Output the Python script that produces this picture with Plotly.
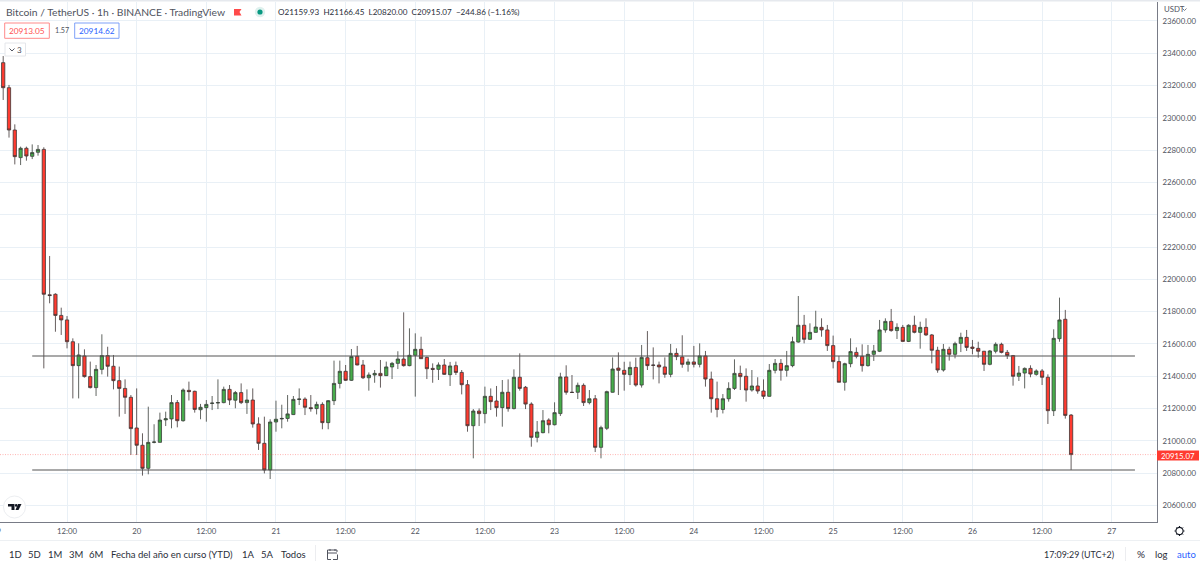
import pandas as pd
import plotly.graph_objects as go

# Hourly BTC/USDT candles, 19 Aug 01:00 to 26 Aug 17:00
first_candle = "2022-08-19 01:00"

opens = [
    23342, 23187, 22925, 22754, 22812, 22762, 22787, 22805, 21905, 21908,
    21777, 21749, 21614, 21466, 21526, 21398, 21330, 21443, 21528, 21462,
    21373, 21325, 21270, 21080, 20973, 20830, 20991, 20991, 21130, 21136,
    21237, 21125, 21313, 21307, 21193, 21206, 21232, 21235, 21237, 21319,
    21252, 21299, 21237, 21253, 21105, 20985, 20820, 21117, 21136, 21139,
    21163, 21257, 21259, 21206, 21200, 21226, 21113, 21249, 21356, 21431,
    21375, 21524, 21470, 21391, 21408, 21418, 21404, 21458, 21480, 21507,
    21466, 21530, 21567, 21517, 21449, 21443, 21470, 21410, 21466, 21424,
    21348, 21094, 21185, 21169, 21276, 21247, 21206, 21301, 21200, 21394,
    21332, 21228, 21022, 21051, 21129, 21100, 21169, 21396, 21301, 21301,
    21344, 21237, 21261, 20960, 21078, 21301, 21451, 21437, 21410, 21455,
    21346, 21515, 21470, 21470, 21458, 21412, 21542, 21520, 21474, 21489,
    21474, 21526, 21383, 21261, 21195, 21261, 21325, 21418, 21400, 21315,
    21340, 21309, 21276, 21437, 21480, 21437, 21466, 21612, 21716, 21629,
    21672, 21703, 21687, 21590, 21491, 21363, 21478, 21548, 21524, 21466,
    21536, 21555, 21687, 21740, 21683, 21703, 21616, 21716, 21672, 21703,
    21656, 21561, 21439, 21567, 21536, 21604, 21641, 21581, 21573, 21555,
    21474, 21555, 21598, 21548, 21528, 21400, 21420, 21449, 21412, 21433,
    21394, 21187, 21633, 21753, 21159.93,
]
highs = [
    23383, 23204, 22960, 22822, 22822, 22836, 22832, 22818, 22145, 21914,
    21825, 21773, 21635, 21604, 21567, 21491, 21470, 21660, 21583, 21532,
    21460, 21381, 21284, 21325, 21047, 21212, 21103, 21175, 21181, 21284,
    21253, 21325, 21367, 21311, 21229, 21253, 21278, 21381, 21336, 21346,
    21309, 21356, 21319, 21325, 21146, 21150, 21134, 21249, 21224, 21284,
    21278, 21325, 21270, 21284, 21243, 21239, 21253, 21497, 21497, 21470,
    21569, 21588, 21501, 21424, 21439, 21501, 21491, 21489, 21555, 21796,
    21697, 21666, 21645, 21522, 21480, 21486, 21507, 21489, 21491, 21439,
    21377, 21197, 21201, 21336, 21325, 21340, 21377, 21381, 21443, 21542,
    21340, 21239, 21123, 21191, 21140, 21239, 21422, 21468, 21408, 21361,
    21356, 21315, 21284, 21094, 21311, 21517, 21548, 21490, 21491, 21515,
    21594, 21680, 21579, 21491, 21517, 21600, 21573, 21654, 21509, 21588,
    21604, 21557, 21429, 21367, 21290, 21363, 21505, 21466, 21449, 21439,
    21394, 21381, 21476, 21507, 21507, 21557, 21645, 21897, 21780, 21728,
    21806, 21759, 21718, 21652, 21526, 21484, 21635, 21579, 21598, 21594,
    21594, 21749, 21759, 21817, 21728, 21718, 21722, 21775, 21738, 21759,
    21662, 21583, 21600, 21583, 21614, 21670, 21687, 21625, 21614, 21557,
    21563, 21610, 21608, 21563, 21532, 21464, 21455, 21468, 21443, 21445,
    21412, 21691, 21887, 21811, 21166.45,
]
lows = [
    23111, 22878, 22712, 22708, 22735, 22745, 22766, 21449, 21852, 21676,
    21656, 21573, 21263, 21263, 21392, 21325, 21278, 21412, 21398, 21319,
    21150, 21167, 20913, 20913, 20785, 20793, 20985, 20990, 21092, 21078,
    21084, 21119, 21250, 21175, 21134, 21119, 21191, 21197, 21233, 21222,
    21202, 21228, 21167, 21082, 20944, 20799, 20764, 21057, 21078, 21119,
    21160, 21222, 21160, 21181, 21164, 21072, 21072, 21222, 21325, 21371,
    21371, 21468, 21383, 21311, 21360, 21330, 21402, 21383, 21445, 21460,
    21462, 21274, 21507, 21383, 21360, 21377, 21408, 21340, 21408, 21288,
    21057, 20892, 21092, 21109, 21191, 21150, 21088, 21181, 21195, 21311,
    21197, 20964, 20991, 21047, 21047, 21096, 21154, 21286, 21298, 21259,
    21216, 21226, 20931, 20892, 21067, 21299, 21284, 21311, 21346, 21336,
    21330, 21439, 21381, 21356, 21391, 21394, 21500, 21453, 21429, 21455,
    21455, 21336, 21175, 21146, 21170, 21243, 21315, 21315, 21243, 21305,
    21292, 21259, 21274, 21418, 21373, 21398, 21456, 21608, 21604, 21625,
    21670, 21645, 21557, 21449, 21363, 21311, 21456, 21511, 21429, 21460,
    21495, 21550, 21670, 21676, 21631, 21614, 21612, 21666, 21571, 21650,
    21480, 21422, 21429, 21497, 21511, 21550, 21557, 21536, 21515, 21433,
    21468, 21542, 21542, 21507, 21342, 21371, 21325, 21394, 21404, 21346,
    21105, 21154, 21614, 21138, 20820.00,
]
closes = [
    23187, 22925, 22760, 22812, 22764, 22785, 22805, 21908, 21900, 21777,
    21749, 21614, 21466, 21532, 21398, 21330, 21443, 21528, 21462, 21373,
    21325, 21270, 21076, 20973, 20830, 20991, 20993, 21129, 21137, 21237,
    21125, 21315, 21305, 21195, 21208, 21226, 21234, 21237, 21319, 21253,
    21299, 21237, 21253, 21105, 20985, 20820, 21117, 21134, 21139, 21167,
    21257, 21259, 21208, 21200, 21226, 21113, 21249, 21356, 21431, 21375,
    21522, 21470, 21391, 21408, 21418, 21404, 21458, 21480, 21507, 21466,
    21530, 21567, 21509, 21447, 21443, 21470, 21412, 21464, 21424, 21348,
    21094, 21185, 21169, 21276, 21243, 21206, 21301, 21200, 21394, 21325,
    21228, 21022, 21055, 21125, 21100, 21175, 21396, 21301, 21300, 21344,
    21237, 21261, 20960, 21082, 21305, 21445, 21437, 21412, 21455, 21346,
    21517, 21466, 21468, 21458, 21412, 21542, 21522, 21474, 21489, 21474,
    21526, 21383, 21261, 21195, 21261, 21325, 21418, 21398, 21315, 21340,
    21309, 21276, 21437, 21480, 21437, 21466, 21614, 21716, 21629, 21672,
    21705, 21687, 21590, 21491, 21363, 21478, 21553, 21524, 21466, 21536,
    21557, 21687, 21740, 21683, 21703, 21616, 21716, 21672, 21703, 21656,
    21561, 21439, 21567, 21536, 21602, 21641, 21579, 21573, 21555, 21474,
    21557, 21598, 21548, 21528, 21400, 21420, 21449, 21414, 21433, 21394,
    21187, 21635, 21749, 21158, 20915.07,
]

# Horizontal levels drawn by hand on the chart
level_start = "2022-08-19 06:00"
level_end = "2022-08-27 04:00"
resistance = 21526
support = 20820
last_price = 20915.07

time_ticks = pd.date_range("2022-08-19 12:00", "2022-08-27 00:00", freq="12h")
time_labels = [str(t.day) if t.hour == 0 else "12:00" for t in time_ticks]

range_buttons = [("1D", 15), ("5D", 34.5), ("1M", 55), ("3M", 75.5), ("6M", 96),
                 ("Fecha del año en curso (YTD)", 172), ("1A", 248), ("5A", 267), ("Todos", 293.5)]

# Plot area in page pixels
W, H = 1200, 565
LEFT, RIGHT, TOP, BOTTOM = 0, 1157, 2, 522
GRID = "#e9f0f6"
AXIS = "#787b86"
LABEL = "#50535e"
FONT = "Lato, 'Open Sans', sans-serif"


def px(x):
    return (x - LEFT) / (RIGHT - LEFT)


def py(y):
    return 1 - (y - TOP) / (BOTTOM - TOP)


def note(x, y, text, size=9, color=LABEL, anchor="left"):
    return dict(xref="paper", yref="paper", x=px(x), y=py(y), text=text, showarrow=False,
                xanchor=anchor, yanchor="middle", borderpad=0,
                font=dict(family=FONT, size=size, color=color))


def outline(points, close=False):
    cmds = [f"{'M' if i == 0 else 'L'}{px(a):.5f},{py(b):.5f}" for i, (a, b) in enumerate(points)]
    return " ".join(cmds) + (" Z" if close else "")


def poly(points, fill=None, line=None, width=1, close=True, layer="above"):
    return dict(type="path", xref="paper", yref="paper", path=outline(points, close),
                fillcolor=fill or "rgba(0,0,0,0)", layer=layer,
                line=dict(color=line or "rgba(0,0,0,0)", width=width))


def box(x0, y0, x1, y1, fill=None, line=None, width=1, layer="above"):
    return dict(type="rect", xref="paper", yref="paper", x0=px(x0), x1=px(x1), y0=py(y0), y1=py(y1),
                fillcolor=fill or "rgba(0,0,0,0)", layer=layer,
                line=dict(color=line or "rgba(0,0,0,0)", width=width))


def disc(cx, cy, r, fill=None, line=None, width=1):
    return dict(type="circle", xref="paper", yref="paper", x0=px(cx - r), x1=px(cx + r),
                y0=py(cy + r), y1=py(cy - r), fillcolor=fill or "rgba(0,0,0,0)",
                line=dict(color=line or "rgba(0,0,0,0)", width=width))


times = pd.date_range(first_candle, periods=len(opens), freq="h")

fig = go.Figure()
fig.add_trace(go.Candlestick(
    x=times, open=opens, high=highs, low=lows, close=closes, whiskerwidth=0,
    increasing=dict(fillcolor="#47ad4b", line=dict(color="#3a3f3a", width=0.8)),
    decreasing=dict(fillcolor="#ff3b30", line=dict(color="#3f3535", width=0.8)),
    showlegend=False, hoverinfo="skip",
))
for level in (resistance, support):
    fig.add_trace(go.Scatter(x=[level_start, level_end], y=[level, level], mode="lines",
                             line=dict(color="#555555", width=1.1), showlegend=False, hoverinfo="skip"))

shapes = [
    dict(type="line", xref="paper", yref="y", x0=0, x1=1, y0=last_price, y1=last_price,
         line=dict(color="rgba(255,59,48,0.38)", width=1, dash="1px,1.5px")),
    box(1157, 450.5, 1199, 460.5, fill="#ff3b30"),
    # strip at the top of the page, toolbar divider
    box(0, 0, 1200, 1.5, fill="#e6e9ee"),
    box(0, 540, 1200, 541, fill="#edf0f3"),
    box(315, 545, 315.7, 561, fill="#e4e6ea"),
    box(1125, 547, 1125.7, 561, fill="#e4e6ea"),
    # legend value boxes
    dict(box(4.7, 23, 49.3, 38.3, fill="white", line="#ff8a8a", width=1)),
    dict(box(74.7, 23, 119, 38.3, fill="white", line="#7ea1f8", width=1)),
    box(5, 43, 25.5, 56, fill="white", line="#e4e6ea"),
    poly([(9.5, 48.5), (12, 51), (14.5, 48.5)], line="#50535e", width=1, close=False),
    # flag and market status dot
    poly([(234, 9), (241.5, 9), (239.5, 12), (241.5, 15.5), (234, 15.5)], fill="#ff4a4a"),
    disc(260, 12, 5.2, fill="#dff1ee"),
    disc(260, 12, 2.6, fill="#089981"),
    # logo badge
    disc(14.5, 507, 11, fill="white", line="#eceef1"),
    poly([(8, 504), (14.5, 504), (14.5, 510), (11.5, 510), (11.5, 506.5), (8, 506.5)], fill="#131722"),
    disc(16.2, 505.4, 1.3, fill="#131722"),
    poly([(18, 504), (21.5, 504), (18.5, 510), (15.5, 510)], fill="#131722"),
    # calendar glyph
    poly([(337, 552), (337, 550), (327.5, 550), (327.5, 559.5), (331, 559.5)], line="#50535e", close=False),
    poly([(327.5, 553), (337, 553)], line="#50535e", close=False),
    poly([(330, 549), (330, 551)], line="#50535e", close=False),
    poly([(335, 549), (335, 551)], line="#50535e", close=False),
    poly([(337.5, 554.5), (337.5, 559.5), (333, 559.5)], line="#50535e", close=False),
    # settings gear
    disc(1179.5, 531, 3.6, line="#131722", width=1.1),
    poly([(1179.5, 526), (1179.5, 527.3)], line="#131722", close=False),
    poly([(1179.5, 534.7), (1179.5, 536)], line="#131722", close=False),
    poly([(1174.5, 531), (1175.8, 531)], line="#131722", close=False),
    poly([(1183.2, 531), (1184.5, 531)], line="#131722", close=False),
    poly([(1176, 527.5), (1177, 528.5)], line="#131722", close=False),
    poly([(1182, 533.5), (1183, 534.5)], line="#131722", close=False),
    poly([(1183, 527.5), (1182, 528.5)], line="#131722", close=False),
    poly([(1177, 533.5), (1176, 534.5)], line="#131722", close=False),
    # small chevron next to the currency
    poly([(1182.5, 8.5), (1184.5, 10.5), (1186.5, 8.5)], line="#787b86", close=False),
]

notes = [
    note(5, 12, "Bitcoin / TetherUS · 1h · BINANCE · TradingView", 10.3, "#50535e"),
    note(277, 12, "O21159.93  H21166.45  L20820.00  C20915.07  −244.86 (−1.16%)", 8.1, "#2a2e39"),
    note(27, 30.6, "20913.05", 8.3, "#ff5252", "center"),
    note(62, 30.4, "1.57", 7.2, "#50535e", "center"),
    note(97, 30.6, "20914.62", 8.3, "#2962ff", "center"),
    note(19.5, 49.5, "3", 8, "#50535e", "center"),
    note(1163, 9, "USDT", 7.8, "#50535e"),
    note(1178, 455.5, f"{last_price:.2f}", 7.8, "white", "center"),
    note(-3, 531, "19", 7.8, LABEL, "center"),
    note(1043, 554, "17:09:29 (UTC+2)", 8.9, "#2a2e39"),
    note(1140.5, 554, "%", 10, "#2a2e39", "center"),
    note(1161, 554, "log", 9.5, "#2a2e39", "center"),
    note(1186, 554, "auto", 9.5, "#2962ff", "center"),
]
notes += [note(x, 554, t, 9.5, "#2a2e39", "center") for t, x in range_buttons]

fig.update_layout(
    width=W, height=H, autosize=False,
    margin=dict(l=LEFT, r=W - RIGHT, t=TOP, b=H - BOTTOM, pad=0),
    paper_bgcolor="white", plot_bgcolor="white", boxgap=0.2,
    shapes=shapes, annotations=notes,
    xaxis=dict(
        type="date", range=["2022-08-19 00:27", "2022-08-27 07:48"], rangeslider=dict(visible=False),
        tickmode="array", tickvals=list(time_ticks), ticktext=time_labels, tickangle=0,
        showgrid=True, gridcolor=GRID, gridwidth=1, zeroline=False,
        showline=True, linecolor=AXIS, linewidth=1, ticks="outside", ticklen=2, tickcolor="rgba(0,0,0,0)",
        tickfont=dict(family=FONT, size=7.8, color=LABEL), automargin=False,
    ),
    yaxis=dict(
        side="right", range=[20497.8, 23717.6], tick0=0, dtick=200, tickformat=".2f",
        showgrid=True, gridcolor=GRID, gridwidth=1, zeroline=False,
        showline=True, linecolor=AXIS, linewidth=1, ticks="outside", ticklen=3, tickcolor="rgba(0,0,0,0)",
        tickfont=dict(family=FONT, size=7.8, color=LABEL), automargin=False,
    ),
    hovermode=False,
)

fig.write_html("out.html", config=dict(displayModeBar=False))
